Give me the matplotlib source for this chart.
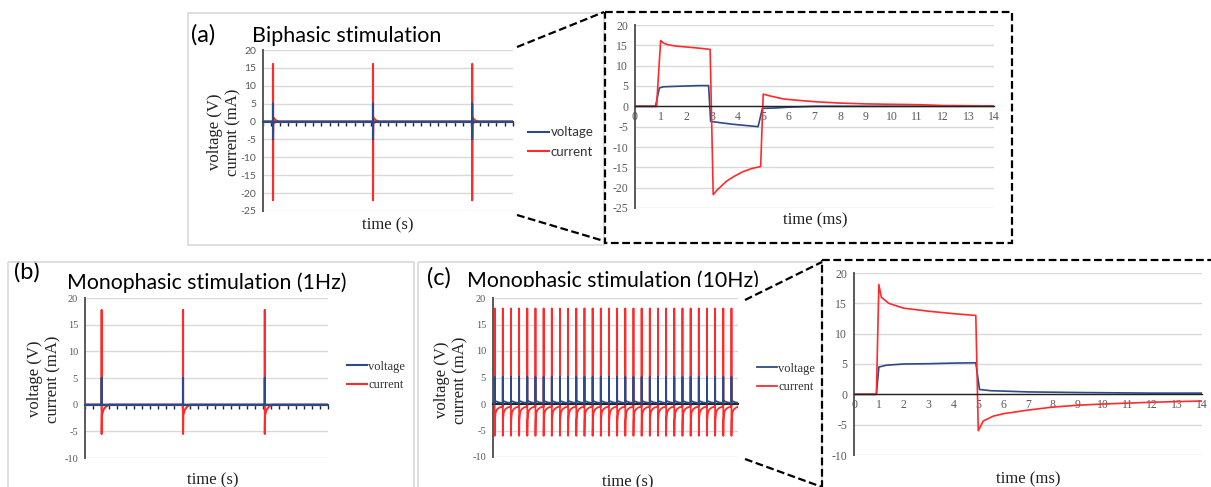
import matplotlib
matplotlib.use('Agg')
import matplotlib.pyplot as plt
from matplotlib.lines import Line2D
from matplotlib.patches import Rectangle
from matplotlib.transforms import Bbox

# ---------------- data ----------------
# (a) biphasic overview: pulse times (category units on a 0..30 axis)
pulse_times_a = [1.2, 13.2, 25.1]
pulse_cur_a_off = [0, 0, 0, 0.02, 0.3, 0.7]
pulse_cur_a_val = [0, 16, -22, 1.2, 0.4, 0]
pulse_vol_a_off = [0, 0, 0, 0.02, 0.5]
pulse_vol_a_val = [0, 5, -5, -0.4, 0]

# (a) zoom (time in ms)
cur_a_t = [0, 0.84, 1.0, 1.1, 1.25, 1.6, 2.0, 2.5, 2.93, 3.05, 3.2, 3.57, 3.9, 4.2, 4.55,
           4.9, 5.0, 5.3, 5.8, 6.5, 7.1, 8.0, 9.0, 10.0, 11.1, 12.0, 13.0, 14.0]
cur_a = [0, 0, 16.2, 15.6, 15.2, 14.8, 14.6, 14.3, 14.0, -21.7, -20.6, -18.4, -17.1, -16.1,
         -15.3, -14.8, 3.0, 2.5, 1.8, 1.4, 1.1, 0.8, 0.6, 0.5, 0.4, 0.2, 0.15, 0.1]
vol_a_t = [0, 0.8, 0.95, 1.1, 1.5, 2.0, 2.5, 2.87, 2.95, 3.3, 3.8, 4.3, 4.8, 4.97, 5.5,
           6.0, 7.0, 14.0]
vol_a = [0, 0, 4.5, 4.8, 4.9, 5.0, 5.1, 5.1, -3.7, -4.0, -4.4, -4.7, -5.0, -0.5, -0.4,
         -0.2, 0.0, 0.0]

# (b) monophasic 1 Hz overview
pulse_times_b = [2.06, 12.1, 22.2]
pulse_cur_b_off = [0, 0, 0, 0.03, 0.2, 0.5, 0.9]
pulse_cur_b_val = [0, 17.7, -5.5, -2.0, -1.0, -0.4, 0]
pulse_vol_b_off = [0, 0, 0, 0.05]
pulse_vol_b_val = [0, 5, 0.3, 0]

# (c) monophasic 10 Hz overview
pulse_times_c = [0.2, 1.2, 2.2, 3.2, 4.2, 5.2, 6.2, 7.2, 8.2, 9.2, 10.2, 11.2, 12.2, 13.2,
                 14.2, 15.2, 16.2, 17.2, 18.2, 19.2, 20.2, 21.2, 22.2, 23.2, 24.2, 25.2,
                 26.2, 27.2, 28.2, 29.2]
pulse_cur_c_off = [0, 0, 0, 0.03, 0.12, 0.3, 0.6, 0.97]
pulse_cur_c_val = [0, 18, -6, -3.0, -1.6, -1.0, -0.65, -0.5]
pulse_vol_c_off = [0, 0, 0, 0.5, 0.97]
pulse_vol_c_val = [0, 5.1, 0.6, 0.3, 0.2]

# (c) zoom (time in ms)
cur_c_t = [0, 0.9, 1.0, 1.1, 1.4, 2.0, 3.0, 4.0, 4.9, 5.0, 5.2, 5.6, 6.0, 7.0, 8.0, 9.0,
           10.0, 11.0, 12.0, 13.0, 14.0]
cur_c = [0, 0, 18.1, 16.0, 15.0, 14.2, 13.7, 13.3, 13.0, -6.0, -4.4, -3.6, -3.2, -2.6,
         -2.1, -1.8, -1.6, -1.45, -1.3, -1.2, -1.1]
vol_c_t = [0, 0.9, 1.0, 1.3, 2.0, 3.0, 4.0, 4.9, 5.05, 5.5, 7.0, 9.0, 12.0, 14.0]
vol_c = [0, 0, 4.5, 4.8, 5.0, 5.05, 5.15, 5.2, 0.8, 0.6, 0.4, 0.3, 0.2, 0.2]

labels = ['voltage', 'current']
titles = ['Biphasic stimulation', 'Monophasic stimulation (1Hz)', 'Monophasic stimulation (10Hz)']
panel_tags = ['(a)', '(b)', '(c)']
ylabel_text = 'voltage (V)\ncurrent (mA)'

# ---------------- style ----------------
W, H = 1211, 487
SERIF = 'Liberation Serif'
SANS = 'Lato'
VOLT = '#2b4a86'
CURR = '#ff2b2b'
GRID = '#d9d9d9'
AXIS = '#595959'

fig = plt.figure(figsize=(W / 100, H / 100), dpi=100)
fig.patch.set_facecolor('white')


def px_axes(x0, y0, x1, y1):
    return fig.add_axes([x0 / W, 1 - y1 / H, (x1 - x0) / W, (y1 - y0) / H])


def style(ax, ylim, xlim, tickfont, ticksize, zoom):
    ax.set_xlim(*xlim)
    ax.set_ylim(*ylim)
    yt = list(range(ylim[0], ylim[1] + 1, 5))
    ax.set_yticks(yt)
    ax.set_yticklabels([str(v) for v in yt], fontfamily=tickfont, fontsize=ticksize, color=AXIS)
    ax.yaxis.grid(True, color=GRID, lw=1.0)
    ax.set_axisbelow(True)
    ax.patch.set_alpha(0)
    for s in ('top', 'right'):
        ax.spines[s].set_visible(False)
    ax.spines['left'].set_color(AXIS)
    ax.spines['left'].set_linewidth(1.4)
    ax.spines['bottom'].set_position(('data', 0))
    ax.tick_params(axis='y', length=0, pad=5)
    xt = list(range(xlim[0], xlim[1] + 1))
    ax.set_xticks(xt)
    if zoom:
        ax.set_xticklabels([str(v) for v in xt], fontfamily=tickfont, fontsize=ticksize, color=AXIS)
        ax.tick_params(axis='x', length=0, pad=3)
        ax.spines['bottom'].set_color('#222222')
        ax.spines['bottom'].set_linewidth(1.0)
        ax.spines['bottom'].set_zorder(3)
    else:
        ax.set_xticklabels([])
        ax.tick_params(axis='x', direction='out', length=3, width=1, color='#222222')
        ax.spines['bottom'].set_color(VOLT)
        ax.spines['bottom'].set_linewidth(1.5)


def trace(times, offs, vals, xlim):
    xs, ys = [xlim[0]], [0]
    for t in times:
        for o, v in zip(offs, vals):
            xs.append(t + o)
            ys.append(v)
    xs.append(xlim[1])
    ys.append(ys[-1])
    return xs, ys


def add_legend(ax, handles, x, y, family, size):
    ax.legend(handles, labels, loc='center left', bbox_to_anchor=(x / W, 1 - y / H),
              bbox_transform=fig.transFigure, frameon=False,
              prop={'family': family, 'size': size}, handlelength=1.6,
              handletextpad=0.1, borderpad=0, borderaxespad=0, labelspacing=0.55,
              labelcolor='#333333')


# ---------- (a) overview ----------
axa = px_axes(263, 50, 513, 211)
style(axa, (-25, 20), (0, 30), SANS, 7.5, False)
x, y = trace(pulse_times_a, pulse_cur_a_off, pulse_cur_a_val, (0, 30))
lc, = axa.plot(x, y, color=CURR, lw=1.5, zorder=2)
x, y = trace(pulse_times_a, pulse_vol_a_off, pulse_vol_a_val, (0, 30))
lv, = axa.plot(x, y, color=VOLT, lw=1.5, zorder=3)
add_legend(axa, [lv, lc], 528, 142, SANS, 9.5)

# ---------- (a) zoom ----------
axaz = px_axes(635, 25, 994, 208)
style(axaz, (-25, 20), (0, 14), SERIF, 8.5, True)
axaz.plot(vol_a_t, vol_a, color=VOLT, lw=1.2, zorder=2)
axaz.plot(cur_a_t, cur_a, color=CURR, lw=1.2, zorder=2)

# ---------- (b) overview ----------
axb = px_axes(85, 298, 328, 458)
style(axb, (-10, 20), (0, 30), SERIF, 7.5, False)
x, y = trace(pulse_times_b, pulse_cur_b_off, pulse_cur_b_val, (0, 30))
lc, = axb.plot(x, y, color=CURR, lw=1.5, zorder=2)
x, y = trace(pulse_times_b, pulse_vol_b_off, pulse_vol_b_val, (0, 30))
lv, = axb.plot(x, y, color=VOLT, lw=1.5, zorder=3)
add_legend(axb, [lv, lc], 347, 376, SERIF, 9)

# ---------- (c) overview ----------
axc = px_axes(493, 298, 738, 457)
style(axc, (-10, 20), (0, 30), SERIF, 7.5, False)
axc.tick_params(axis='x', length=0)
axc.spines['bottom'].set_color('#222222')
x, y = trace(pulse_times_c, pulse_cur_c_off, pulse_cur_c_val, (0, 30))
lc, = axc.plot(x, y, color=CURR, lw=1.3, zorder=2)
x, y = trace(pulse_times_c, pulse_vol_c_off, pulse_vol_c_val, (0, 30))
lv, = axc.plot(x, y, color=VOLT, lw=1.3, zorder=3)
add_legend(axc, [lv, lc], 757, 378, SERIF, 9)

# ---------- (c) zoom ----------
axcz = px_axes(854, 273, 1202, 455)
style(axcz, (-10, 20), (0, 14), SERIF, 8.5, True)
axcz.plot(vol_c_t, vol_c, color=VOLT, lw=1.2, zorder=2)
axcz.plot(cur_c_t, cur_c, color=CURR, lw=1.2, zorder=2)

# ---------- text ----------
def ftext(px, py, s, **kw):
    return fig.text(px / W, 1 - py / H, s, **kw)

for (px, py) in [(224, 132), (44, 379), (451, 380)]:
    ftext(px, py, ylabel_text, rotation=90, ha='center', va='center', ma='center',
          family=SERIF, fontsize=12, linespacing=1.22, color='#222222')

for (px, py, s) in [(388, 225, 'time (s)'), (815, 220, 'time (ms)'), (213, 480, 'time (s)'),
                    (628, 482, 'time (s)'), (1028, 479, 'time (ms)')]:
    ftext(px, py, s, ha='center', va='center', family=SERIF, fontsize=12, color='#222222')

ftext(191, 42, panel_tags[0], ha='left', va='baseline', family=SANS, fontsize=17, color='black')
ftext(252, 42, titles[0], ha='left', va='baseline', family=SANS, fontsize=15.5, color='black')
ftext(14, 279, panel_tags[1], ha='left', va='baseline', family=SANS, fontsize=17, color='black')
ftext(67, 289, titles[1], ha='left', va='baseline', family=SANS, fontsize=15.3, color='black')
ftext(427, 285, panel_tags[2], ha='left', va='baseline', family=SANS, fontsize=17, color='black')
tc = ftext(467, 287, titles[2], ha='left', va='baseline', family=SANS, fontsize=15.3, color='black')
tc.set_clip_box(Bbox.from_extents(410, H - 287, 830, H - 250))
tc.set_clip_on(True)

# ---------- frames and connectors ----------
ov = fig.add_axes([0, 0, 1, 1], zorder=10)
ov.set_xlim(0, W)
ov.set_ylim(H, 0)
ov.axis('off')
ov.patch.set_alpha(0)
for (x0, y0, w, h) in [(188, 13, 416, 232), (8, 262, 406, 240), (418, 262, 404, 240)]:
    ov.add_patch(Rectangle((x0, y0), w, h, fill=False, ec=GRID, lw=1.2, clip_on=False))
dash = (0, (3.5, 1.6))
for (x0, y0, w, h) in [(605, 12, 407, 231), (822, 260, 410, 240)]:
    ov.add_patch(Rectangle((x0, y0), w, h, fill=False, ec='black', lw=1.6, ls=dash,
                           clip_on=False))
for (xa, ya, xb, yb) in [(517, 47, 604, 12), (517, 215, 604, 241),
                         (745, 300, 822, 262), (745, 459, 822, 487)]:
    ov.add_line(Line2D([xa, xb], [ya, yb], color='black', lw=1.6, ls=dash))

fig.savefig('out.png', dpi=100, facecolor='white')
